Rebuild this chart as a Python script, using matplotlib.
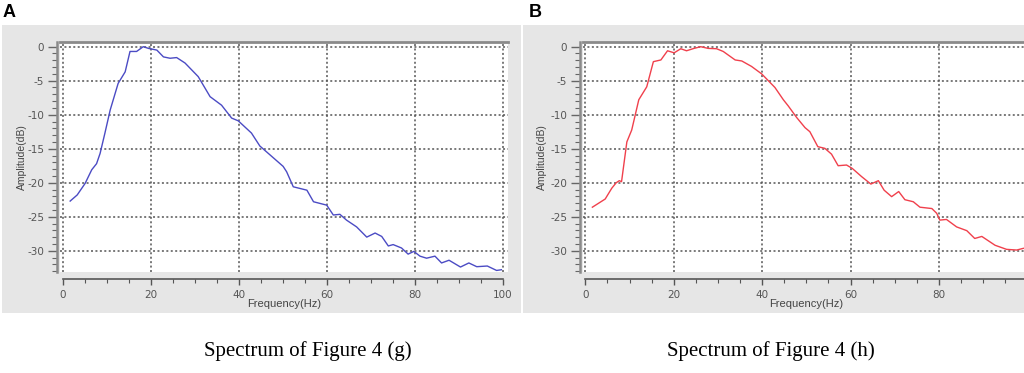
import matplotlib
matplotlib.use("Agg")
import matplotlib.pyplot as plt
from matplotlib.ticker import MultipleLocator

# Spectrum of Figure 4 (g) -- panel A
freq_a = [1.7, 3.3, 5.1, 6.6, 7.7, 8.5, 9.6, 10.8, 12.6, 14.2, 15.3, 16.8, 18.3,
          19.5, 21.4, 22.9, 24.4, 25.9, 27.8, 30.8, 33.5, 36.1, 38.4, 39.9, 42.9,
          44.8, 47.1, 50.1, 50.9, 52.4, 55.5, 57.0, 60.0, 61.5, 63.0, 64.5, 66.8,
          69.1, 71.0, 72.5, 74.0, 75.1, 77.0, 78.5, 79.8, 81.2, 82.7, 84.6, 86.1,
          87.8, 90.4, 92.3, 94.1, 96.5, 98.6, 99.7]
amp_a = [-22.7, -21.8, -20.1, -18.1, -17.2, -15.7, -12.7, -9.3, -5.4, -3.7, -0.7,
         -0.7, 0.0, -0.25, -0.5, -1.5, -1.7, -1.6, -2.4, -4.4, -7.35, -8.6, -10.5,
         -10.9, -12.7, -14.6, -15.9, -17.6, -18.4, -20.6, -21.1, -22.8, -23.3,
         -24.75, -24.65, -25.5, -26.5, -28.0, -27.4, -27.9, -29.3, -29.1, -29.6,
         -30.5, -30.1, -30.8, -31.1, -30.8, -31.8, -31.4, -32.4, -31.8, -32.35,
         -32.25, -32.9, -32.8]

# Spectrum of Figure 4 (h) -- panel B
freq_b = [1.6, 4.5, 6.0, 7.0, 7.7, 8.2, 9.4, 10.5, 12.1, 13.9, 15.4, 17.1, 18.6,
          20.1, 21.6, 22.9, 24.6, 26.1, 27.8, 29.7, 31.2, 33.9, 35.4, 37.6, 39.9,
          42.9, 44.8, 45.9, 47.8, 49.7, 50.8, 52.6, 54.2, 55.7, 57.2, 59.1, 60.4,
          62.5, 64.6, 66.3, 67.6, 69.3, 70.9, 72.3, 74.2, 75.7, 78.4, 79.5, 80.2,
          81.7, 84.0, 86.3, 88.1, 89.7, 92.7, 95.3, 97.6, 99.1]
amp_b = [-23.6, -22.4, -20.8, -20.0, -19.7, -19.85, -14.0, -12.25, -7.8, -5.9,
         -2.2, -1.95, -0.6, -0.9, -0.3, -0.6, -0.25, 0.0, -0.25, -0.3, -0.7,
         -1.95, -2.1, -2.9, -4.0, -6.0, -7.8, -8.7, -10.4, -11.9, -12.5, -14.7,
         -14.95, -15.8, -17.5, -17.4, -17.9, -19.1, -20.2, -19.7, -21.1, -22.05,
         -21.3, -22.5, -22.8, -23.6, -23.8, -24.5, -25.5, -25.4, -26.5, -27.05,
         -28.2, -27.9, -29.2, -29.8, -29.9, -29.65]

x_ticks = [0, 20, 40, 60, 80, 100]
x_labels_a = ["0", "20", "40", "60", "80", "100"]
x_labels_b = ["0", "20", "40", "60", "80", ""]  # 100 falls off the cropped edge
y_ticks = [0, -5, -10, -15, -20, -25, -30]
y_labels = ["0", "-5", "-10", "-15", "-20", "-25", "-30"]
captions = ["Spectrum of Figure 4 (g)", "Spectrum of Figure 4 (h)"]

W, H = 1024, 373
fig = plt.figure(figsize=(W / 100, H / 100), dpi=100)
fig.patch.set_facecolor("white")
sans = "Liberation Sans"


def px(x0, y0, x1, y1):
    # pixel box (top-left origin) -> figure fraction rect
    return [x0 / W, 1 - y1 / H, (x1 - x0) / W, (y1 - y0) / H]


# grey panel backgrounds
for box in [(2, 25, 521, 313), (523, 25, 1024, 313)]:
    bg = fig.add_axes(px(*box))
    bg.set_facecolor("#e6e6e6")
    bg.set_xticks([])
    bg.set_yticks([])
    for s in bg.spines.values():
        s.set_visible(False)
    bg.set_zorder(-5)


def panel(rect, xlim, f, a, color, xlabels):
    ax = fig.add_axes(rect)
    ax.set_facecolor("white")
    ax.plot(f, a, color=color, lw=1.0)
    ax.set_xlim(*xlim)
    ax.set_ylim(-33.13, 0.69)
    ax.xaxis.set_minor_locator(MultipleLocator(5))
    ax.yaxis.set_minor_locator(MultipleLocator(1))
    ax.set_xticks(x_ticks)
    ax.set_xticklabels(xlabels, family=sans)
    ax.set_yticks(y_ticks)
    ax.set_yticklabels(y_labels, family=sans)
    ax.grid(True, which="major", color="#555555", ls=(0, (1.3, 1.6)), lw=1.1)

    ax.spines["right"].set_visible(False)
    ax.spines["top"].set_color("#8a8a8a")
    ax.spines["top"].set_linewidth(2)
    ax.spines["left"].set_color("#8a8a8a")
    ax.spines["left"].set_linewidth(1.8)
    ax.spines["left"].set_position(("outward", 2))
    ax.spines["bottom"].set_color("#555555")
    ax.spines["bottom"].set_linewidth(1.2)
    ax.spines["bottom"].set_position(("outward", 5))
    ax.spines["bottom"].set_bounds(0, 100)

    ax.tick_params(axis="y", which="major", length=6.8, width=1, color="#666666",
                   labelsize=7.5, labelcolor="#555555", pad=2.5)
    ax.tick_params(axis="y", which="minor", length=3.8, width=0.8, color="#666666")
    ax.tick_params(axis="x", which="major", length=4.2, width=1, color="#555555",
                   labelsize=7.5, labelcolor="#555555", pad=4)
    ax.tick_params(axis="x", which="minor", length=2.6, width=0.8, color="#555555")
    return ax


axA = panel(px(60, 42, 508, 272), (-0.61, 101.2), freq_a, amp_a, "#4b4bc4",
            x_labels_a)
axB = panel(px(583, 42, 1030, 272), (-0.52, 100.6), freq_b, amp_b, "#f0404c",
            x_labels_b)

for ax, lx in [(axA, (22 - 60) / 448), (axB, (542 - 583) / 447)]:
    ax.text(lx, 0.5, "Amplitude(dB)", transform=ax.transAxes, rotation=90,
            ha="center", va="center", fontsize=7.5, color="#444444", family=sans)
    ax.text(0.5, -32 / 230, "Frequency(Hz)", transform=ax.transAxes,
            ha="center", va="center", fontsize=8, color="#444444", family=sans)

fig.text(3 / W, 1 - 4 / H, "A", fontsize=13, fontweight="bold", va="top",
         ha="left", family=sans)
fig.text(529 / W, 1 - 4 / H, "B", fontsize=13, fontweight="bold", va="top",
         ha="left", family=sans)

fig.text(308 / W, 1 - 351 / H, captions[0], fontsize=15, ha="center",
         va="center", family="Liberation Serif")
fig.text(771 / W, 1 - 351 / H, captions[1], fontsize=15, ha="center",
         va="center", family="Liberation Serif")

fig.savefig("out.png", dpi=100)
